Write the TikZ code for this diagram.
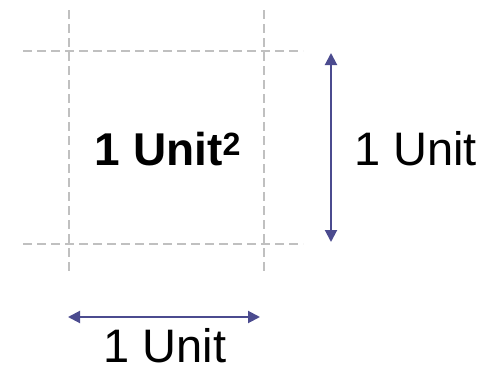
\documentclass[tikz,border=0pt]{standalone}
\usepackage{fontspec}
\setmainfont{Liberation Sans}
\usetikzlibrary{arrows.meta}
\definecolor{gridgray}{RGB}{192,192,192}
\definecolor{arrowblue}{RGB}{75,75,143}
\tikzset{
	gridline/.style={draw=gridgray, line width=1.5pt, dash pattern={on 9pt off 5pt}},
	dimline/.style={draw=arrowblue, line width=2pt, {Triangle[length=12pt,width=12pt]}-{Triangle[length=12pt,width=12pt]}},
	unitlabel/.style={font=\fontsize{47}{50}\selectfont, inner sep=0pt}
}
\begin{document}
\begin{tikzpicture}[x=1pt, y=-1pt]
	\useasboundingbox (0, 0) rectangle (493, 372);
	% Grid:
	\coordinate (vl top) at (69, 10);
	\coordinate (vl bot) at (69, 275);
	\coordinate (vr top) at (264, 10);
	\coordinate (vr bot) at (264, 275);
	\coordinate (ht left) at (23, 51);
	\coordinate (ht right) at (303, 51);
	\coordinate (hb left) at (23, 244);
	\coordinate (hb right) at (303, 244);
	\draw[gridline] (vl top) -- (vl bot);
	\draw[gridline] (vr top) -- (vr bot);
	\draw[gridline] (ht left) -- (ht right);
	\draw[gridline] (hb left) -- (hb right);
	% Labels and arrows:
	\node[unitlabel, font=\fontsize{46}{50}\selectfont\bfseries, anchor=base] (area) at (168, 165) {1 Unit\textsuperscript{2}};
	\coordinate (height top) at (331, 53);
	\coordinate (height bot) at (331, 242);
	\draw[dimline] (height top) -- (height bot);
	\node[unitlabel, anchor=base west] (height) at (354, 165) {1 Unit};
	\coordinate (width left) at (68, 317);
	\coordinate (width right) at (260, 317);
	\draw[dimline] (width left) -- (width right);
	\node[unitlabel, anchor=base] (width) at (165, 362) {1 Unit};
\end{tikzpicture}
\end{document}
